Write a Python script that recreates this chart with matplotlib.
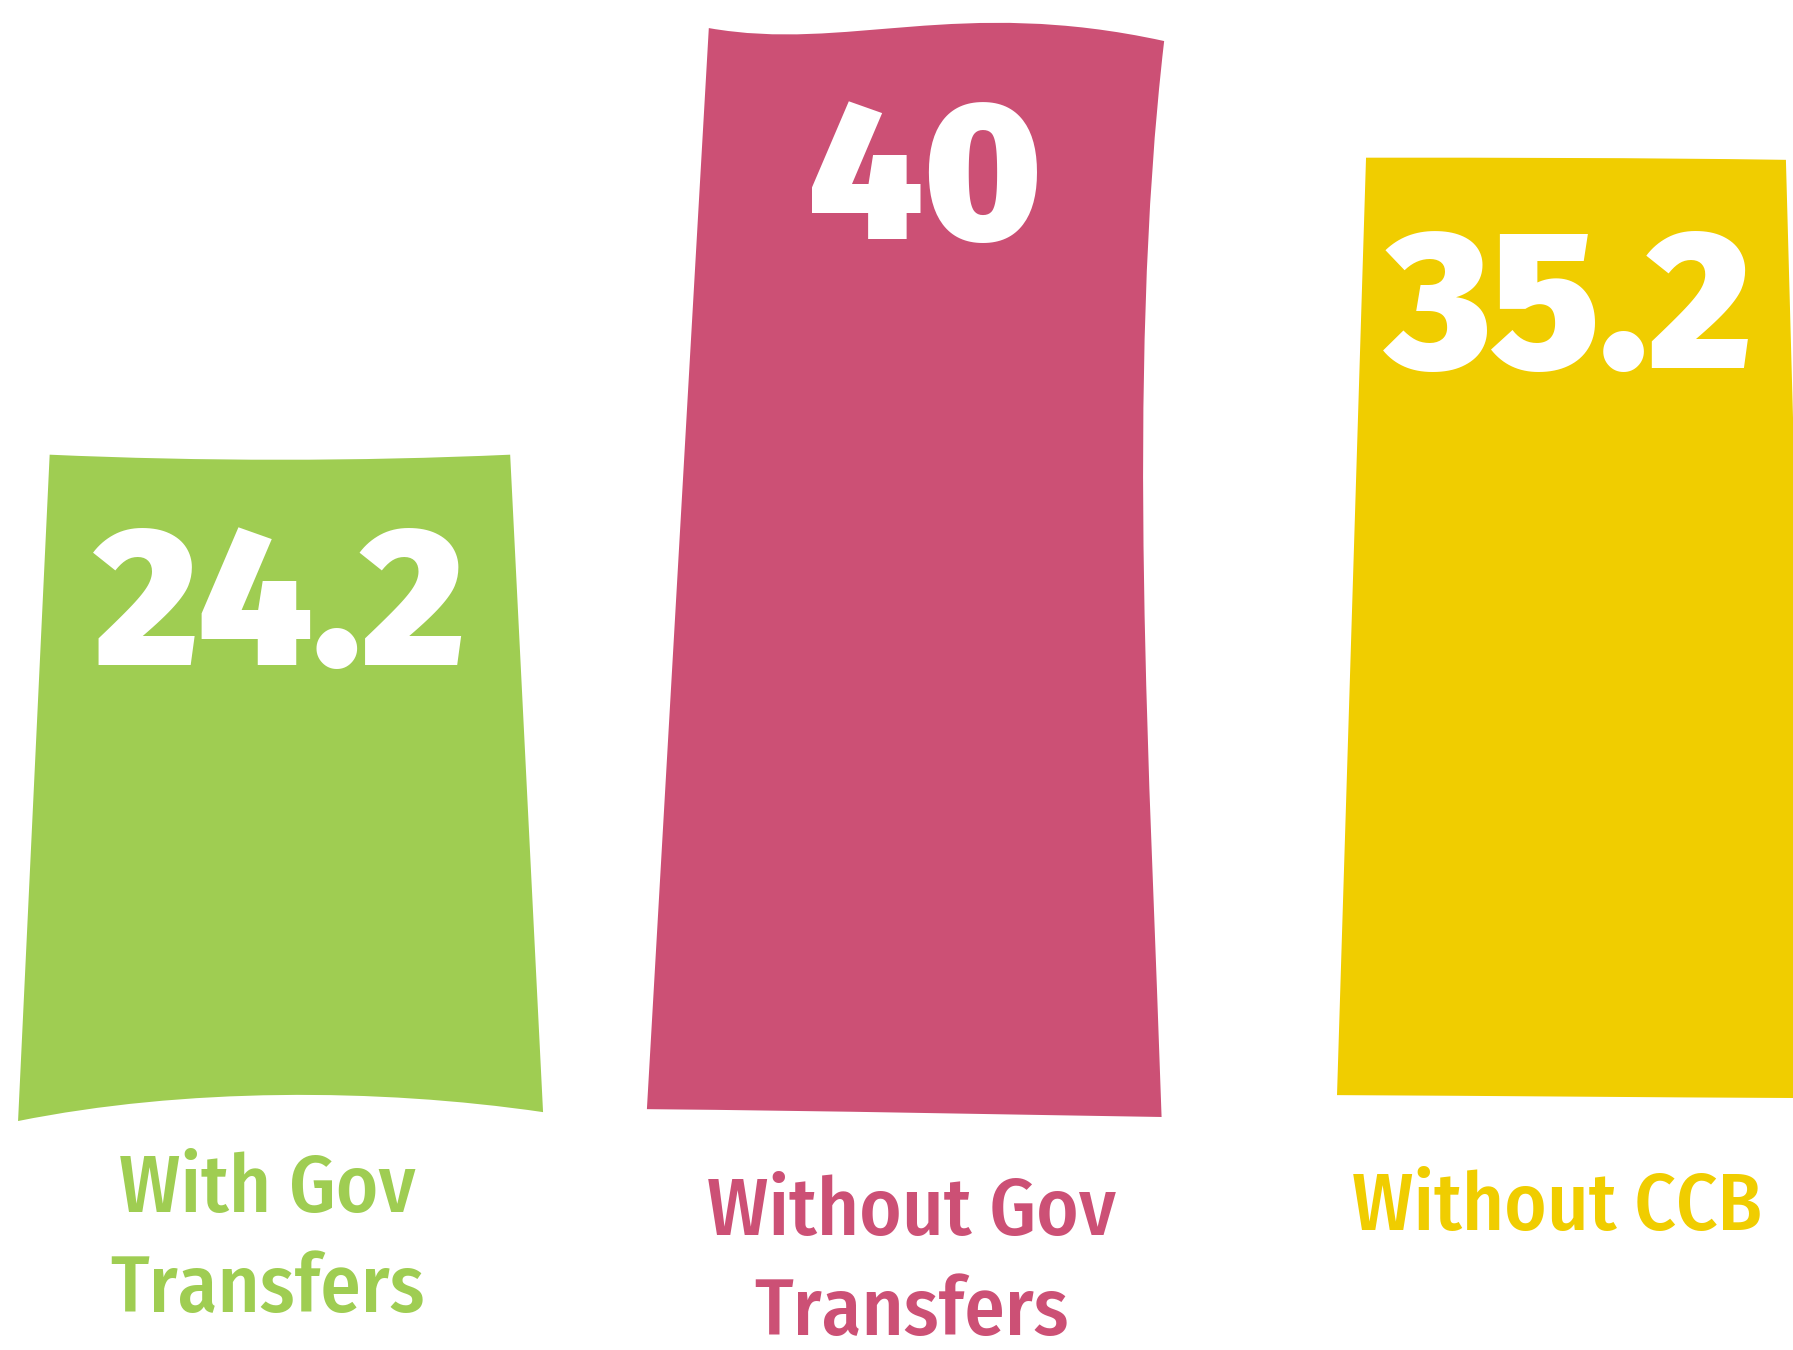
import matplotlib
matplotlib.use("Agg")
import matplotlib.pyplot as plt
from matplotlib.path import Path
from matplotlib.patches import PathPatch

# data
categories = ["With Gov\nTransfers", "Without Gov\nTransfers", "Without CCB"]
values = [24.2, 40, 35.2]
value_labels = ["24.2", "40", "35.2"]
colors = ["#9FCD52", "#CC5075", "#F0CD00"]

# hand-drawn look: edge offsets relative to each bar (x in category units, y in value units)
# (top_left_x, top_right_x, top_right_dy, bottom_left_x, bottom_left_y, bottom_right_x, bottom_right_y)
shapes = [
    (-0.357, 0.357, 0.0, -0.406, -0.48, 0.408, -0.15),
    (-0.335, 0.371, -0.48, -0.431, -0.04, 0.367, -0.33),
    (-0.316, 0.335, -0.08, -0.361, 0.48, 0.375, 0.37),
]
# control points for top edge and bottom edge (dy)
top_ctrl = [((-0.12, -0.25), (0.12, -0.25)),
            ((-0.12, -0.90), (0.05, 1.20)),
            ((-0.10, 0.0), (0.10, 0.0))]
bottom_ctrl = [((-0.15, 0.75), (0.15, 0.75)),
               ((-0.15, -0.1), (0.15, -0.25)),
               ((-0.1, 0.45), (0.1, 0.4))]
label_y = [-3.85, -4.7, -4.52]
line_step = 3.7

num_font = ["Fira Sans", "Lato", "DejaVu Sans"]
lab_font = ["Fira Sans Condensed", "DejaVu Sans"]

fig = plt.figure(figsize=(17.93, 13.5), dpi=100)
ax = fig.add_axes([0, 0, 1, 1])
ax.set_xlim(-0.434, 2.346)
ax.set_ylim(-8.96, 41.04)
ax.axis("off")

for i, (v, c) in enumerate(zip(values, colors)):
    tl, tr, trdy, bl, bly, br, bry = shapes[i]
    (tc1x, tc1y), (tc2x, tc2y) = top_ctrl[i]
    (bc1x, bc1y), (bc2x, bc2y) = bottom_ctrl[i]
    verts = [(i + bl, bly),
             (i + bc1x, bc1y), (i + bc2x, bc2y), (i + br, bry)]
    codes = [Path.MOVETO, Path.CURVE4, Path.CURVE4, Path.CURVE4]
    # right edge (the pink one bows inwards)
    if i == 1:
        verts += [(i + 0.35, 12), (i + 0.31, 27), (i + tr, v + trdy)]
        codes += [Path.CURVE4] * 3
    else:
        verts += [(i + tr, v + trdy)]
        codes += [Path.LINETO]
    # top edge, right to left
    verts += [(i + tc2x, v + tc2y), (i + tc1x, v + tc1y), (i + tl, v)]
    codes += [Path.CURVE4] * 3
    verts += [(i + bl, bly)]
    codes += [Path.CLOSEPOLY]
    ax.add_patch(PathPatch(Path(verts, codes), facecolor=c, edgecolor="none",
                           joinstyle="round"))

    ax.text(i, v - 7.8, value_labels[i], ha="center", va="baseline",
            color="white", fontsize=142, fontweight=900, family=num_font)
    for k, line in enumerate(categories[i].split("\n")):
        ax.text(i - 0.02, label_y[i] - k * line_step, line, ha="center", va="baseline",
                color=c, fontsize=58, fontweight=500, family=lab_font)

fig.savefig("out.png", dpi=100)
